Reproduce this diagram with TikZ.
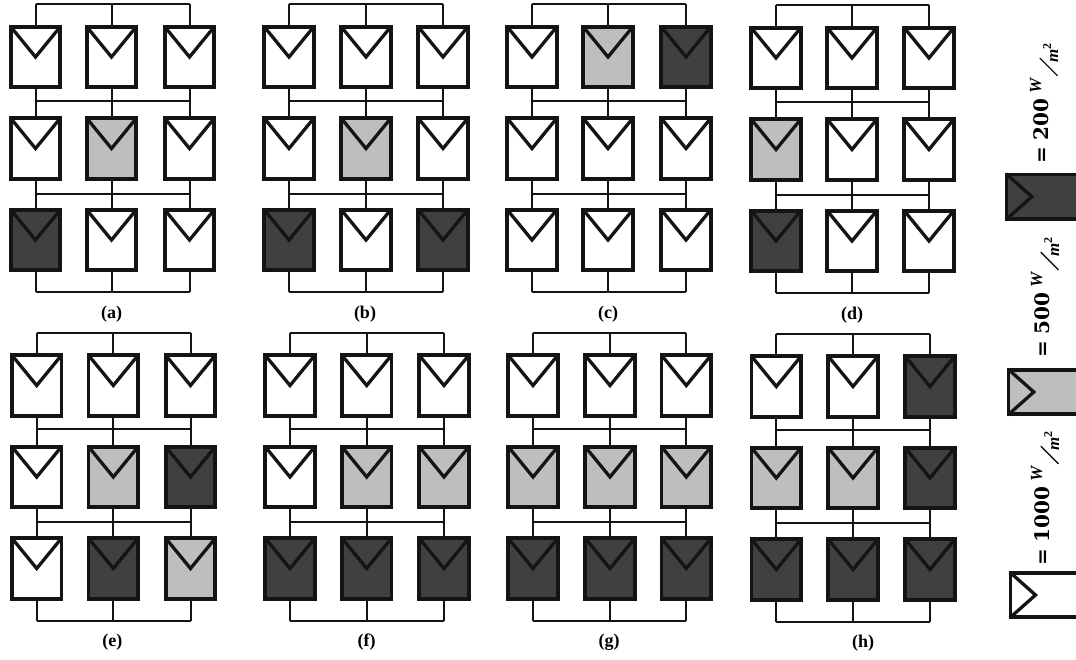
\documentclass[tikz,border=0pt]{standalone}
\usepackage{fontspec}
\setmainfont{Liberation Serif}
\newfontfamily\legendfont{DejaVu Serif}
\usetikzlibrary{positioning, calc}
\definecolor{pvWhite}{HTML}{FFFFFF}
\definecolor{pvGrey}{HTML}{BEBEBE}
\definecolor{pvDark}{HTML}{404040}
\definecolor{pvLine}{HTML}{141414}
\newcommand{\wpermsq}{{\rmfamily\fontsize{17}{17}\selectfont\kern-2pt\raisebox{7pt}{\textbf{\textit{W}}}\kern1pt\raisebox{-9pt}{\rotatebox{-45}{\color{pvLine}\rule{1.4pt}{25pt}}}\kern-5pt\raisebox{-10pt}{\textbf{\textit{m}}}\kern0pt\raisebox{-3pt}{\fontsize{12}{12}\selectfont\bfseries 2}}}
\tikzset{
  pvnode/.style={
    draw=pvLine, line width=3.6pt, minimum width=49.5pt, minimum height=60.5pt,
    inner sep=0pt, path picture={
      \draw[draw=pvLine, line width=3.3pt]
        (path picture bounding box.north west) -- (path picture bounding box.center)
        -- (path picture bounding box.north east);
    }
  },
  pvw/.style={pvnode, fill=pvWhite},
  pvg/.style={pvnode, fill=pvGrey},
  pvd/.style={pvnode, fill=pvDark},
  keybox/.style={draw=pvLine, line width=3.6pt, minimum width=90pt, minimum height=44.4pt, inner sep=0pt, anchor=west},
  keyvee/.style={draw=pvLine, line width=3.3pt, shorten <=1.6pt, shorten >=1.6pt},
  wire/.style={draw=pvLine, line width=2pt},
  caption/.style={font=\fontsize{18}{18}\selectfont\bfseries},
  keytext/.style={font=\fontsize{20}{20}\selectfont\legendfont\bfseries, rotate=90, anchor=base west, inner sep=0pt}
}
% name, three column centres, first row centre, shades row by row, caption, caption shift
\newcommand{\pvarray}[8]{
  \foreach \shade [count=\idx from 0] in {#6} {
    \pgfmathtruncatemacro{\col}{mod(\idx,3)+1}
    \pgfmathtruncatemacro{\row}{div(\idx,3)+1}
    \pgfmathsetmacro{\cx}{{#2,#3,#4}[\col-1]}
    \pgfmathsetmacro{\cy}{#5+91.5*(\row-1)}
    \node[\shade] (#1\row\col) at (\cx,\cy) {};
  }
  \foreach \col in {1,2,3} {
    \coordinate (#1t\col) at (#11\col.north |- 0,#5-53);
    \coordinate (#1m\col) at (#11\col.south |- 0,#5+43.5);
    \coordinate (#1n\col) at (#12\col.south |- 0,#5+136.5);
    \coordinate (#1b\col) at (#13\col.south |- 0,#5+235);
    \draw[wire] (#11\col.north) -- (#1t\col);
    \draw[wire] (#11\col.south) -- (#12\col.north);
    \draw[wire] (#12\col.south) -- (#13\col.north);
    \draw[wire] (#13\col.south) -- (#1b\col);
  }
  \draw[wire] (#1t1) -- (#1t3);
  \draw[wire] (#1m1) -- (#1m3);
  \draw[wire] (#1n1) -- (#1n3);
  \draw[wire] (#1b1) -- (#1b3);
  \node[caption] (#1cap) at ($(#1b2)+(#8,22)$) {#7};
}
\begin{document}
\begin{tikzpicture}[x=1pt, y=-1pt]
  \path[use as bounding box, clip] (0,0) rectangle (1076,659);
  \pvarray{a}{35.5}{111.5}{189.5}{57}{pvw,pvw,pvw,pvw,pvg,pvw,pvd,pvw,pvw}{(a)}{0}
  \pvarray{b}{289}{366}{443}{57}{pvw,pvw,pvw,pvw,pvg,pvw,pvd,pvw,pvd}{(b)}{-1}
  \pvarray{c}{532}{608}{686}{57}{pvw,pvg,pvd,pvw,pvw,pvw,pvw,pvw,pvw}{(c)}{0}
  \pvarray{d}{776}{852}{929}{58}{pvw,pvw,pvw,pvg,pvw,pvw,pvd,pvw,pvw}{(d)}{0}
  \pvarray{e}{36.7}{113.3}{190.5}{385.5}{pvw,pvw,pvw,pvw,pvg,pvd,pvw,pvd,pvg}{(e)}{-1}
  \pvarray{f}{290}{366.7}{444}{385.5}{pvw,pvw,pvw,pvw,pvg,pvg,pvd,pvd,pvd}{(f)}{0}
  \pvarray{g}{533}{610}{686.3}{385.5}{pvw,pvw,pvw,pvg,pvg,pvg,pvd,pvd,pvd}{(g)}{-1}
  \pvarray{h}{776.3}{853}{930}{386.5}{pvw,pvw,pvd,pvg,pvg,pvd,pvd,pvd,pvd}{(h)}{10}
  % legend
  \node[keybox, fill=pvDark] (keydark) at (1004.8,196.7) {};
  \node[keybox, fill=pvGrey] (keygrey) at (1006.8,392) {};
  \node[keybox, fill=pvWhite] (keywhite) at (1008.5,595) {};
  \draw[keyvee] (keydark.north west) -- ($(keydark.west)+(27,0)$) -- (keydark.south west);
  \draw[keyvee] (keygrey.north west) -- ($(keygrey.west)+(27,0)$) -- (keygrey.south west);
  \draw[keyvee] (keywhite.north west) -- ($(keywhite.west)+(27,0)$) -- (keywhite.south west);
  \node[keytext] (textdark) at (1048,164) {= 200 \wpermsq};
  \node[keytext] (textgrey) at (1049,358) {= 500 \wpermsq};
  \node[keytext] (textwhite) at (1049,566) {= 1000 \wpermsq};
\end{tikzpicture}
\end{document}
